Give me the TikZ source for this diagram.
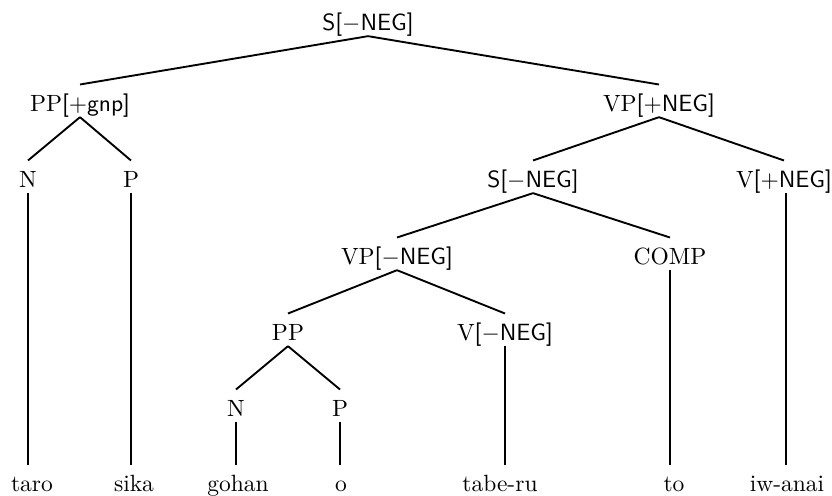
\documentclass[tikz,border=0pt]{standalone}
\usetikzlibrary{positioning}
\tikzset{
    Cat/.style = {
        anchor=base,
        inner xsep=0pt,
        inner ysep=2pt,
        text height=9.5pt,
        text depth=0pt
    },
    Word/.style = {Cat},
    Branch/.style = {line width=0.8pt}
}
\newcommand{\feat}[1]{\textsf{[#1]}}

\begin{document}
\begin{tikzpicture}[x=0.4255pt, y=-0.4255pt]
    \useasboundingbox (0,0) rectangle (832,496);
    % categories
    \node[Cat] (S) at (368,31) {\textsf{S[$-$NEG]}};
    \node[Cat] (PPgnp) at (80,112) {PP\feat{$+$gnp}};
    \node[Cat] (VPpos) at (659,112) {VP\feat{$+$NEG}};
    \node[Cat] (N1) at (28,188) {N};
    \node[Cat] (P1) at (131,188) {P};
    \node[Cat] (Sneg) at (533,188) {\textsf{S[$-$NEG]}};
    \node[Cat] (Vpos) at (784,188) {V\feat{$+$NEG}};
    \node[Cat] (VPneg) at (397,265) {VP\feat{$-$NEG}};
    \node[Cat] (Comp) at (670,265) {COMP};
    \node[Cat] (PP) at (288,341) {PP};
    \node[Cat] (Vneg) at (505,341) {V\feat{$-$NEG}};
    \node[Cat] (N2) at (236,417) {N};
    \node[Cat] (P2) at (340,417) {P};
    % words
    \node[Word] (taro) at (32,492) {taro};
    \node[Word] (sika) at (134,492) {sika};
    \node[Word] (gohan) at (238,492) {gohan};
    \node[Word] (o) at (341,492) {o};
    \node[Word] (taberu) at (500,492) {tabe-ru};
    \node[Word] (to) at (674,492) {to};
    \node[Word] (iwanai) at (787,492) {iw-anai};
    % branches
    \draw [Branch] (S.south) to (PPgnp.north);
    \draw [Branch] (S.south) to (VPpos.north);
    \draw [Branch] (PPgnp.south) to (N1.north);
    \draw [Branch] (PPgnp.south) to (P1.north);
    \draw [Branch] (VPpos.south) to (Sneg.north);
    \draw [Branch] (VPpos.south) to (Vpos.north);
    \draw [Branch] (Sneg.south) to (VPneg.north);
    \draw [Branch] (Sneg.south) to (Comp.north);
    \draw [Branch] (VPneg.south) to (PP.north);
    \draw [Branch] (VPneg.south) to (Vneg.north);
    \draw [Branch] (PP.south) to (N2.north);
    \draw [Branch] (PP.south) to (P2.north);
    % straight down to the words
    \draw [Branch] (N1.south) to (N1.south |- taro.north);
    \draw [Branch] (P1.south) to (P1.south |- sika.north);
    \draw [Branch] (N2.south) to (N2.south |- gohan.north);
    \draw [Branch] (P2.south) to (P2.south |- o.north);
    \draw [Branch] (Vneg.south) to (Vneg.south |- taberu.north);
    \draw [Branch] (Comp.south) to (Comp.south |- to.north);
    \draw [Branch] ([xshift=1pt]Vpos.south) to ([xshift=1pt]Vpos.south |- iwanai.north);
\end{tikzpicture}
\end{document}
